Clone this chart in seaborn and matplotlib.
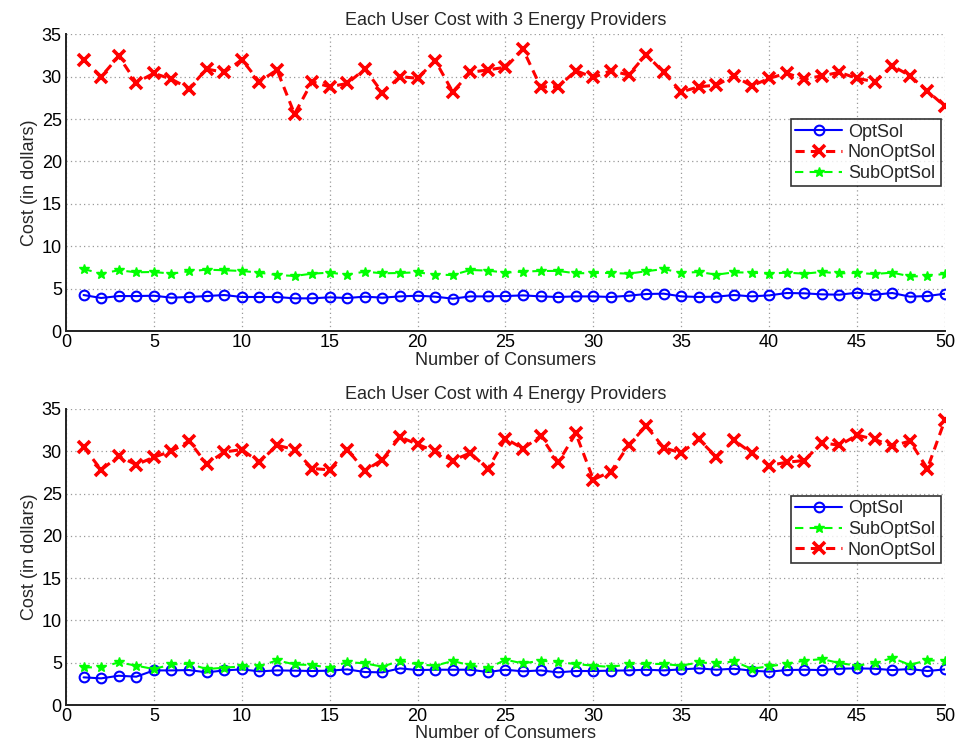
import numpy as np
import pandas as pd
import seaborn as sns
import matplotlib.pyplot as plt

consumers = list(range(1, 51))

# 3 energy providers
opt_3 = [4.25, 3.90, 4.13, 4.13, 4.17, 3.94, 4.02, 4.13, 4.25, 4.02,
         4.02, 4.02, 3.86, 3.86, 3.98, 3.90, 4.06, 3.94, 4.09, 4.17,
         4.06, 3.82, 4.09, 4.09, 4.13, 4.21, 4.09, 4.02, 4.09, 4.09,
         4.02, 4.17, 4.37, 4.41, 4.09, 4.02, 4.06, 4.25, 4.09, 4.21,
         4.49, 4.45, 4.33, 4.29, 4.53, 4.29, 4.49, 4.06, 4.13, 4.41]
nonopt_3 = [32.0, 30.0, 32.4, 29.3, 30.4, 29.7, 28.6, 30.9, 30.5, 32.0,
            29.4, 30.8, 25.6, 29.4, 28.8, 29.2, 30.9, 28.1, 30.0, 29.8,
            31.9, 28.2, 30.5, 30.8, 31.1, 33.2, 28.8, 28.8, 30.7, 29.9,
            30.7, 30.2, 32.6, 30.5, 28.2, 28.8, 29.0, 30.1, 28.9, 29.8,
            30.4, 29.7, 30.1, 30.5, 29.8, 29.4, 31.3, 30.1, 28.3, 26.5]
subopt_3 = [7.32, 6.77, 7.17, 6.93, 6.97, 6.77, 7.05, 7.24, 7.17, 7.09,
            6.89, 6.61, 6.50, 6.77, 6.89, 6.65, 7.01, 6.81, 6.85, 6.93,
            6.65, 6.61, 7.20, 7.13, 6.89, 7.01, 7.09, 7.09, 6.81, 6.85,
            6.85, 6.77, 7.05, 7.32, 6.85, 6.97, 6.65, 6.93, 6.89, 6.77,
            6.89, 6.77, 6.97, 6.81, 6.85, 6.73, 6.89, 6.46, 6.46, 6.77]

# 4 energy providers
opt_4 = [3.27, 3.15, 3.46, 3.35, 4.09, 4.09, 4.13, 3.86, 4.09, 4.21,
         3.98, 4.09, 4.06, 4.02, 4.06, 4.21, 3.90, 3.86, 4.33, 4.13,
         4.17, 4.17, 4.17, 3.90, 4.17, 3.98, 4.09, 3.86, 4.02, 4.02,
         4.06, 4.09, 4.17, 4.09, 4.21, 4.33, 4.17, 4.29, 4.06, 3.94,
         4.13, 4.17, 4.13, 4.29, 4.33, 4.29, 4.13, 4.25, 4.02, 4.21]
subopt_4 = [4.45, 4.45, 5.04, 4.65, 4.25, 4.80, 4.88, 4.25, 4.41, 4.57,
            4.57, 5.28, 4.80, 4.72, 4.41, 5.08, 4.92, 4.53, 5.24, 4.80,
            4.65, 5.20, 4.69, 4.33, 5.35, 4.92, 5.24, 5.08, 4.84, 4.65,
            4.49, 4.84, 4.88, 4.84, 4.65, 5.04, 4.92, 5.16, 4.29, 4.57,
            4.88, 5.24, 5.43, 4.96, 4.65, 4.96, 5.55, 4.76, 5.28, 5.24]
nonopt_4 = [30.5, 27.8, 29.4, 28.4, 29.3, 30.0, 31.2, 28.5, 29.9, 30.2,
            28.7, 30.7, 30.2, 27.95, 27.8, 30.2, 27.7, 29.0, 31.7, 30.8,
            30.0, 28.9, 29.8, 27.9, 31.5, 30.3, 31.8, 28.7, 32.1, 26.65,
            27.6, 30.7, 33.0, 30.4, 29.8, 31.4, 29.3, 31.3, 29.8, 28.3,
            28.7, 28.9, 31.0, 30.7, 31.9, 31.4, 30.6, 31.2, 27.95, 33.7]

sns.set_style('white')
plt.rcParams['font.family'] = ['Liberation Sans', 'DejaVu Sans']
plt.rcParams['xtick.direction'] = 'in'
plt.rcParams['ytick.direction'] = 'in'

styles = {
    'OptSol': dict(color='#0000ff', marker='o', linestyle='-', linewidth=1.5,
                   markersize=7, markerfacecolor='none', markeredgecolor='#0000ff',
                   markeredgewidth=1.5),
    'NonOptSol': dict(color='#ff0000', marker='x', linestyle=(0, (3, 2)), linewidth=2.2,
                      markersize=9, markeredgecolor='#ff0000', markeredgewidth=2.6),
    'SubOptSol': dict(color='#00ff00', marker='*', linestyle=(0, (4, 3)), linewidth=1.5,
                      markersize=7.5, markeredgecolor='#00ff00', markeredgewidth=1),
}

fig = plt.figure(figsize=(9.62, 7.44), dpi=100)
ax1 = fig.add_axes([0.0686, 0.555, 0.9137, 0.399])
ax2 = fig.add_axes([0.0686, 0.0524, 0.9137, 0.398])

panels = [
    (ax1, 'Each User Cost with 3 Energy Providers',
     [('OptSol', opt_3), ('NonOptSol', nonopt_3), ('SubOptSol', subopt_3)], 0.714),
    (ax2, 'Each User Cost with 4 Energy Providers',
     [('OptSol', opt_4), ('SubOptSol', subopt_4), ('NonOptSol', nonopt_4)], 0.706),
]

for ax, title, series, leg_y in panels:
    for name, vals in series:
        sns.lineplot(x=consumers, y=vals, ax=ax, label=name, **styles[name])
    ax.set_xlim(0, 50)
    ax.set_ylim(0, 35)
    ax.set_xticks(range(0, 51, 5))
    ax.set_yticks(range(0, 36, 5))
    ax.grid(True, linestyle=(0, (1, 2.5)), color='#999999', linewidth=0.9)
    ax.set_axisbelow(True)
    for s in ['top', 'right']:
        ax.spines[s].set_visible(False)
    for s in ['left', 'bottom']:
        ax.spines[s].set_color('#222222')
        ax.spines[s].set_linewidth(1.4)
    ax.tick_params(axis='both', labelsize=13, length=6, width=1.2, pad=3, colors='#222222')
    ax.tick_params(axis='x', pad=2)
    ax.tick_params(axis='both', labelcolor='black')
    ax.set_title(title, fontsize=13, pad=7)
    ax.set_xlabel('Number of Consumers', fontsize=13, labelpad=0.5)
    ax.set_ylabel('Cost (in dollars)', fontsize=13, labelpad=3)
    leg = ax.legend(loc='upper right', bbox_to_anchor=(0.995, leg_y), fontsize=13,
                    frameon=True, fancybox=False, edgecolor='black',
                    handlelength=2.6, borderpad=0.25, labelspacing=0.2,
                    handletextpad=0.3, borderaxespad=0)
    leg.get_frame().set_linewidth(1.2)

fig.savefig('out.png', dpi=100)
